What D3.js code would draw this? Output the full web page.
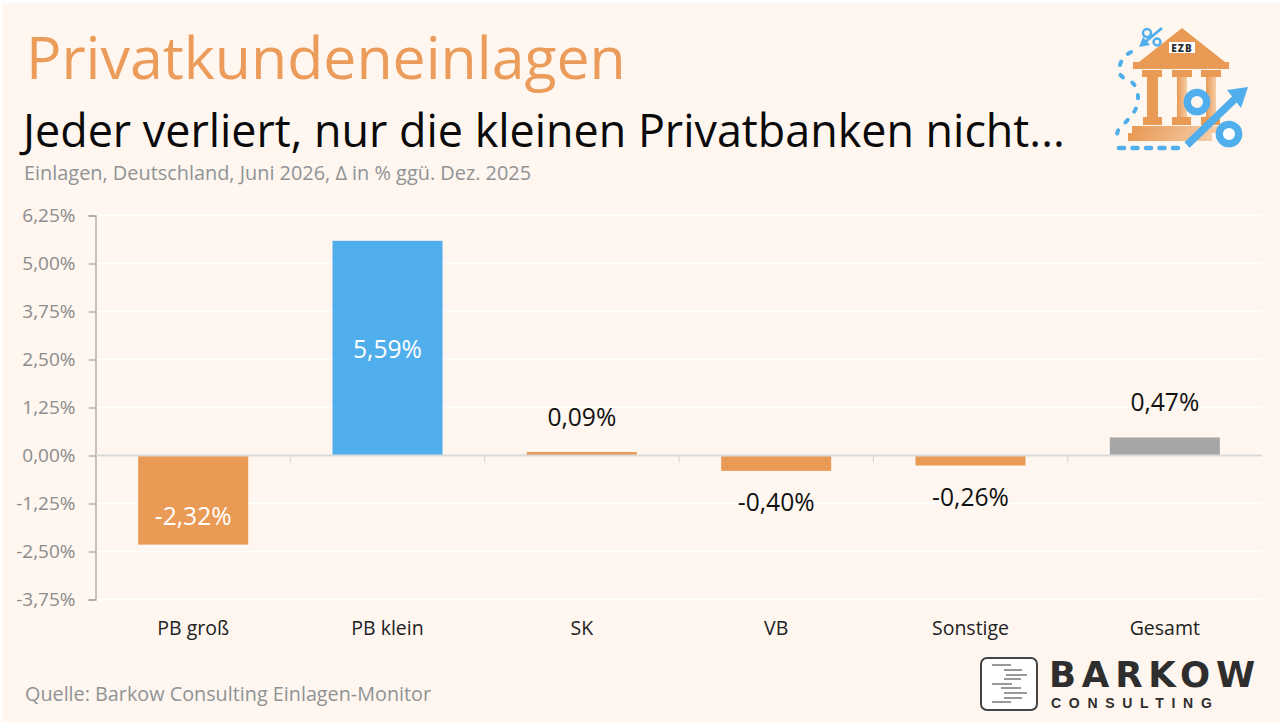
<!DOCTYPE html>
<html><head><meta charset="utf-8">
<script src="https://cdn.jsdelivr.net/npm/d3@7"></script>
<style>html,body{margin:0;padding:0;background:#fff}svg{display:block}text{font-family:"Open Sans",sans-serif}</style>
</head><body><div id="c"></div>
<script>
const categories=["PB groß","PB klein","SK","VB","Sonstige","Gesamt"];
const values=[-2.32,5.59,0.09,-0.40,-0.26,0.47];
const barColors=["#E99A55","#4FAEEB","#E99A55","#E99A55","#E99A55","#A6A6A6"];
const labelInside=[true,true,false,false,false,false];
const yTicks=[-3.75,-2.5,-1.25,0,1.25,2.5,3.75,5,6.25];
const fmt=v=>d3.format(".2f")(v).replace("−","-").replace(".",",")+"%";
const W=1280,H=722;
const svg=d3.select("#c").append("svg").attr("width",W).attr("height",H);
svg.append("rect").attr("x",2).attr("y",3).attr("width",W-2).attr("height",H-3).attr("fill","#FEF6EF");
const y=d3.scaleLinear().domain([-3.75,6.25]).range([599.5,215.5]);
const x=d3.scaleBand().domain(categories).range([96,1262]).paddingInner(0.434).paddingOuter(0.217);
// white gridlines
svg.append("g").selectAll("line").data(yTicks.filter(d=>d!==0)).join("line")
 .attr("x1",96).attr("x2",1262).attr("y1",d=>y(d)).attr("y2",d=>y(d))
 .attr("stroke","#FFFFFF").attr("stroke-width",1.5);
// y axis
const ay=svg.append("g").attr("transform","translate(95.5,0)")
 .call(d3.axisLeft(y).tickValues(yTicks).tickSize(7).tickPadding(13).tickFormat(fmt));
ay.select(".domain").attr("stroke","#A6A6A6").attr("stroke-width",1.3);
ay.selectAll(".tick line").attr("stroke","#A6A6A6").attr("stroke-width",1.3);
ay.selectAll("text").attr("fill","#8C8C8C").style("font-size","19px").style("font-family","'Open Sans',sans-serif");
// bars
svg.append("g").selectAll("rect").data(categories).join("rect")
 .attr("x",d=>x(d)).attr("width",x.bandwidth())
 .attr("y",(d,i)=>Math.min(y(values[i]),y(0)))
 .attr("height",(d,i)=>Math.abs(y(values[i])-y(0)))
 .attr("fill",(d,i)=>barColors[i]);
// zero line and category ticks
svg.append("line").attr("x1",96).attr("x2",1262).attr("y1",y(0)).attr("y2",y(0)).attr("stroke","#DADADA").attr("stroke-width",1.8);
const step=x.step();
svg.append("g").selectAll("line").data(categories.slice(1)).join("line")
 .attr("x1",d=>x(d)+x.bandwidth()/2-step/2).attr("x2",d=>x(d)+x.bandwidth()/2-step/2)
 .attr("y1",y(0)).attr("y2",y(0)+7).attr("stroke","#DADADA").attr("stroke-width",1.3);
// value labels
svg.append("g").selectAll("text").data(categories).join("text")
 .attr("x",d=>x(d)+x.bandwidth()/2)
 .attr("y",(d,i)=>labelInside[i]?(y(values[i])+y(0))/2+(values[i]<0?24.5:9.5):(values[i]>=0?y(values[i])-26:y(values[i])+40.3))
 .attr("text-anchor","middle").style("font-size","24.6px")
 .attr("fill",(d,i)=>labelInside[i]?"#FFFFFF":"#111111").text((d,i)=>fmt(values[i]));
// category labels
svg.append("g").selectAll("text").data(categories).join("text")
 .attr("x",d=>x(d)+x.bandwidth()/2).attr("y",634.5).attr("text-anchor","middle")
 .style("font-size","19.5px").attr("fill","#222222").text(d=>d);
// titles
svg.append("text").attr("x",26).attr("y",79).style("font-size","59px").attr("fill","#EC9C5A").text("Privatkundeneinlagen");
svg.append("text").attr("x",23).attr("y",147).style("font-size","44.85px").attr("fill","#0A0A0A").text("Jeder verliert, nur die kleinen Privatbanken nicht...");
svg.append("text").attr("x",24).attr("y",180).style("font-size","19.9px").attr("fill","#8F9396").text("Einlagen, Deutschland, Juni 2026, Δ in % ggü. Dez. 2025");
svg.append("text").attr("x",25).attr("y",701).style("font-size","19.8px").attr("fill","#8F9396").text("Quelle: Barkow Consulting Einlagen-Monitor");
// Barkow logo
const lg=svg.append("g");
lg.append("rect").attr("x",981).attr("y",658).attr("width",56).attr("height",52).attr("rx",6).attr("fill","#FFFFFF").attr("stroke","#444").attr("stroke-width",2);
[[992,1011,665],[1004,1022,670],[1006,1027,675],[1004,1021,679],[992,1012,684],[1001,1021,688],[1004,1027,693],[1004,1022,698],[992,1011,702]]
 .forEach(s=>lg.append("line").attr("x1",s[0]).attr("x2",s[1]).attr("y1",s[2]).attr("y2",s[2]).attr("stroke","#777").attr("stroke-width",1.5));
lg.append("text").attr("x",1049).attr("y",687).style("font-family","'DejaVu Sans',sans-serif").style("font-weight","700").style("font-size","35.5px").style("letter-spacing","5.8px").attr("fill","#2E2E2E").text("BARKOW");
lg.append("text").attr("x",1051).attr("y",707.5).style("font-family","'Liberation Sans',sans-serif").style("font-weight","700").style("font-size","14px").style("letter-spacing","7.7px").attr("fill","#2E2E2E").text("CONSULTING");
// Bank icon
const ic=svg.append("g"),or="#E99A55",bl="#4FAEEB";
const grad=svg.append("defs").append("linearGradient").attr("id","fade");
grad.append("stop").attr("offset","0").attr("stop-color",or);
grad.append("stop").attr("offset","1").attr("stop-color","#F5CDA8");
const R=(a,b,w,h,c)=>ic.append("rect").attr("x",a).attr("y",b).attr("width",w).attr("height",h).attr("fill",c);
ic.append("path").attr("d","M1139 62L1182 28L1225 62Z").attr("fill",or);
R(1133,62,96,7,or);
[1142,1172,1201].forEach(a=>R(a,70,20,7,or));
R(1147,77,11,40,or);R(1177,77,10,40,"url(#fade)");R(1206,77,10,40,"url(#fade)");
[1143,1172,1201].forEach(a=>R(a,117,19,8,or));
R(1132,126,88,7,"url(#fade)");R(1128,133,84,8,"url(#fade)");
R(1169,42,26,11,"#FFF");
ic.append("text").attr("x",1182).attr("y",52).attr("text-anchor","middle").style("font-size","10px").style("font-weight","800").style("letter-spacing","1px").attr("fill","#333").text("EZB");
// arrow + percent
ic.append("path").attr("d","M1187 145L1238 96").attr("stroke",bl).attr("stroke-width",7.5).attr("fill","none");
ic.append("path").attr("d","M1227 90L1248 87L1241 108Z").attr("fill",bl);
ic.append("circle").attr("cx",1197).attr("cy",102).attr("r",9.7).attr("fill","#FEF6EF").attr("stroke",bl).attr("stroke-width",7.3);
ic.append("circle").attr("cx",1229).attr("cy",134).attr("r",9.7).attr("fill","#FFF").attr("stroke",bl).attr("stroke-width",7.3);
ic.append("path").attr("d","M1119 148L1180 148").attr("stroke",bl).attr("stroke-width",4.5).attr("stroke-linecap","round").attr("stroke-dasharray","5 8.5").attr("fill","none");
ic.append("path").attr("d","M1131 52Q1119 58 1119 73Q1122 78 1130 81Q1139 86 1138 103Q1136 112 1123 125Q1116 130 1117 138").attr("stroke",bl).attr("stroke-width",4).attr("stroke-linecap","round").attr("stroke-dasharray","3.5 10.5").attr("fill","none");
ic.append("path").attr("d","M1162 28L1144 43").attr("stroke",bl).attr("stroke-width",2.8);
ic.append("path").attr("d","M1139 47L1143 37L1150 45Z").attr("fill",bl);
ic.append("circle").attr("cx",1147).attr("cy",33).attr("r",4).attr("fill","none").attr("stroke",bl).attr("stroke-width",2.5);
ic.append("circle").attr("cx",1157).attr("cy",42).attr("r",3.5).attr("fill","none").attr("stroke",bl).attr("stroke-width",2.5);
</script></body></html>
